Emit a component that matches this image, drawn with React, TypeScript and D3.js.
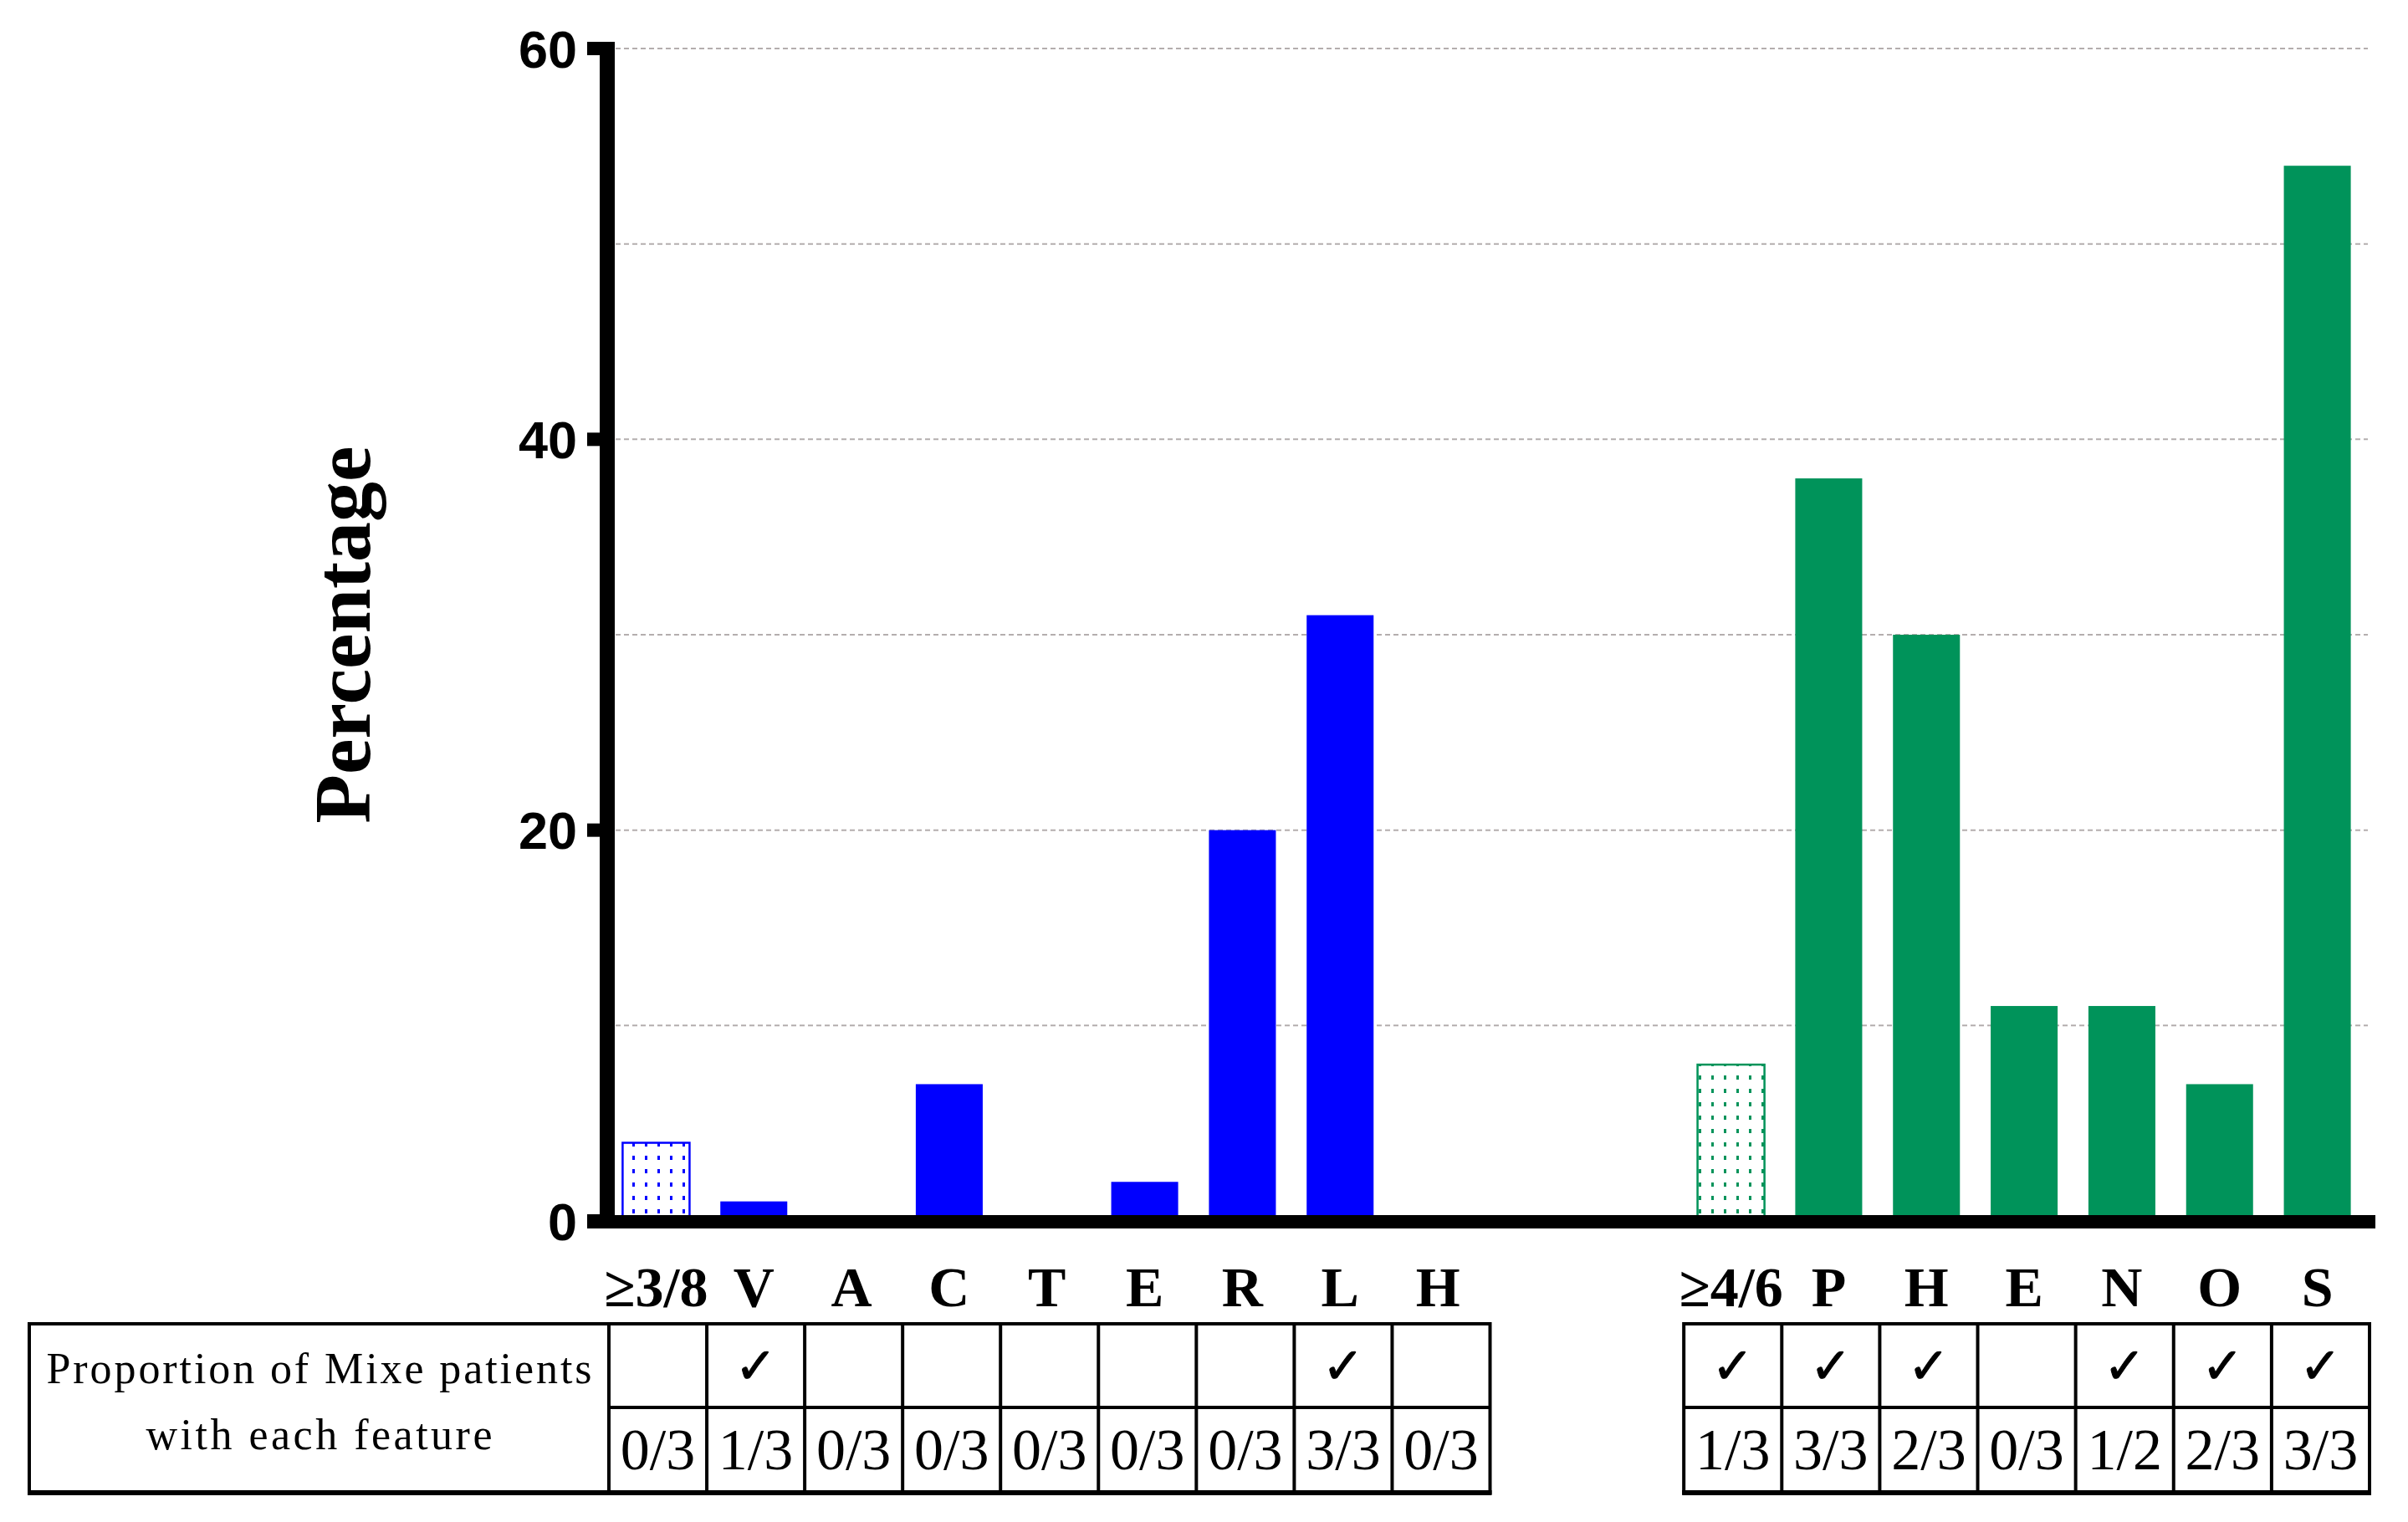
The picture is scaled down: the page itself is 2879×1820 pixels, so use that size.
import React from "react";
import * as d3 from "d3";

// ---- data ----
const blueCategories = ["≥3/8", "V", "A", "C", "T", "E", "R", "L", "H"];
const blueValues = [4, 1, 0, 7, 0, 2, 20, 31, 0];
const blueChecks = [false, true, false, false, false, false, false, true, false];
const blueFractions = ["0/3", "1/3", "0/3", "0/3", "0/3", "0/3", "0/3", "3/3", "0/3"];

const greenCategories = ["≥4/6", "P", "H", "E", "N", "O", "S"];
const greenValues = [8, 38, 30, 11, 11, 7, 54];
const greenChecks = [true, true, true, false, true, true, true];
const greenFractions = ["1/3", "3/3", "2/3", "0/3", "1/2", "2/3", "3/3"];

const yTicks = [0, 20, 40, 60];
const gridValues = [10, 20, 30, 40, 50, 60];
const gapSlots = ["gap1", "gap2"];

const BLUE = "#0000ff";
const GREEN = "#00935a";

type Item = { id: string; label: string; value: number; check: boolean; frac: string; color: string; patterned: boolean; group: string };

const blueItems: Item[] = blueCategories.map((c, i) => ({
  id: "b" + i, label: c, value: blueValues[i], check: blueChecks[i], frac: blueFractions[i], color: BLUE, patterned: i === 0, group: "blue",
}));
const greenItems: Item[] = greenCategories.map((c, i) => ({
  id: "g" + i, label: c, value: greenValues[i], check: greenChecks[i], frac: greenFractions[i], color: GREEN, patterned: i === 0, group: "green",
}));
const items = [...blueItems, ...greenItems];
const domain = [...blueItems.map((d) => d.id), ...gapSlots, ...greenItems.map((d) => d.id)];

// ---- layout ----
const W = 2879, H = 1820;
const plotLeft = 726, plotRight = 2829;
const yTopPx = 58, yBottomPx = 1460;
const tableTop = 1583, tableMid = 1683, tableBottom = 1785;
const boxLeft = 35;

const x = d3.scaleBand<string>().domain(domain).range([plotLeft, plotRight]).paddingInner(0.315).paddingOuter(0.1575);
const y = d3.scaleLinear().domain([0, 60]).range([yBottomPx, yTopPx]);

const serif = "'Liberation Serif', 'Times New Roman', serif";
const sans = "'Liberation Sans', Arial, sans-serif";

function Table({ list }: { list: Item[] }) {
  const step = x.step();
  const half = (step - x.bandwidth()) / 2;
  const left = (x(list[0].id) as number) - half + 2;
  const right = (x(list[list.length - 1].id) as number) + x.bandwidth() + half + 4;
  const cellW = (right - left) / list.length;
  return (
    <g>
      {list.map((d, i) => {
        const cx = left + cellW * (i + 0.5);
        return (
          <g key={d.id}>
            {d.check && (
              <text x={cx} y={(tableTop + tableMid) / 2 + 21} textAnchor="middle" fontFamily="'DejaVu Sans', sans-serif" fontSize={60} stroke="#000" strokeWidth={1}>
                ✓
              </text>
            )}
            <text x={cx} y={tableBottom - 28} textAnchor="middle" fontFamily={serif} fontSize={70}>
              {d.frac}
            </text>
          </g>
        );
      })}
      {list.slice(1).map((d, i) => {
        const lx = left + cellW * (i + 1);
        return <line key={"v" + d.id} x1={lx} x2={lx} y1={tableTop} y2={tableBottom} stroke="#000" strokeWidth={4} />;
      })}
      <rect x={left} y={tableTop} width={right - left} height={tableBottom - tableTop} fill="none" stroke="#000" strokeWidth={4} />
      <line x1={left} x2={right} y1={tableMid} y2={tableMid} stroke="#000" strokeWidth={4} />
      <line x1={left - 2} x2={right + 2} y1={tableBottom} y2={tableBottom} stroke="#000" strokeWidth={6} />
    </g>
  );
}

export default function App() {
  const half = (x.step() - x.bandwidth()) / 2;
  const blueLeft = (x(blueItems[0].id) as number) - half + 2;
  return (
    <svg width={W} height={H} viewBox={`0 0 ${W} ${H}`} style={{ position: "absolute", left: 0, top: 0, background: "#fff" }}>
      <defs>
        <pattern id="dotsBlue" width={15} height={16} patternUnits="userSpaceOnUse">
          <rect width={15} height={16} fill="#fff" />
          <rect x={6} y={6} width={3} height={5} fill={BLUE} />
        </pattern>
        <pattern id="dotsGreen" width={15} height={16} patternUnits="userSpaceOnUse">
          <rect width={15} height={16} fill="#fff" />
          <rect x={6} y={6} width={3} height={5} fill={GREEN} />
        </pattern>
      </defs>
      <rect width={W} height={H} fill="#fff" />

      {/* gridlines */}
      {gridValues.map((v) => (
        <line key={v} x1={plotLeft} x2={plotRight + 2} y1={y(v)} y2={y(v)} stroke="#b4aeae" strokeWidth={2} strokeDasharray="6 4" />
      ))}

      {/* bars */}
      {items.map((d) =>
        d.value > 0 ? (
          <rect
            key={d.id}
            x={x(d.id)}
            y={y(d.value)}
            width={x.bandwidth()}
            height={y(0) - y(d.value)}
            fill={d.patterned ? (d.group === "blue" ? "url(#dotsBlue)" : "url(#dotsGreen)") : d.color}
            stroke={d.patterned ? d.color : "none"}
            strokeWidth={d.patterned ? 2.5 : 0}
          />
        ) : null
      )}

      {/* axes */}
      <line x1={plotLeft} x2={plotLeft} y1={y(60) - 8} y2={y(0) + 9} stroke="#000" strokeWidth={18} />
      <line x1={plotLeft - 24} x2={plotRight + 11} y1={y(0) + 1} y2={y(0) + 1} stroke="#000" strokeWidth={16} />
      {yTicks.map((t) => (
        <g key={t}>
          <line x1={plotLeft - 24} x2={plotLeft} y1={y(t)} y2={y(t)} stroke="#000" strokeWidth={16} />
          <text x={690} y={y(t)} dy="0.36em" textAnchor="end" fontFamily={sans} fontWeight="bold" fontSize={63}>
            {t}
          </text>
        </g>
      ))}

      {/* y label */}
      <text transform={`translate(442, ${(y(0) + y(60)) / 2 + 0}) rotate(-90)`} textAnchor="middle" fontFamily={serif} fontWeight="bold" fontSize={96}>
        Percentage
      </text>

      {/* category labels */}
      {items.map((d) => (
        <text key={"l" + d.id} x={(x(d.id) as number) + x.bandwidth() / 2} y={1562} textAnchor="middle" fontFamily={serif} fontWeight="bold" fontSize={68}>
          {d.label}
        </text>
      ))}

      {/* left label box */}
      <rect x={boxLeft} y={tableTop} width={blueLeft - boxLeft} height={tableBottom - tableTop} fill="none" stroke="#000" strokeWidth={4} />
      <line x1={boxLeft - 2} x2={blueLeft} y1={tableBottom} y2={tableBottom} stroke="#000" strokeWidth={6} />
      <text x={(boxLeft + blueLeft) / 2} y={1654} textAnchor="middle" fontFamily={serif} fontSize={52} textLength={652} lengthAdjust="spacing">
        Proportion of Mixe patients
      </text>
      <text x={(boxLeft + blueLeft) / 2} y={1733} textAnchor="middle" fontFamily={serif} fontSize={52} textLength={414} lengthAdjust="spacing">
        with each feature
      </text>

      <Table list={blueItems} />
      <Table list={greenItems} />
    </svg>
  );
}
